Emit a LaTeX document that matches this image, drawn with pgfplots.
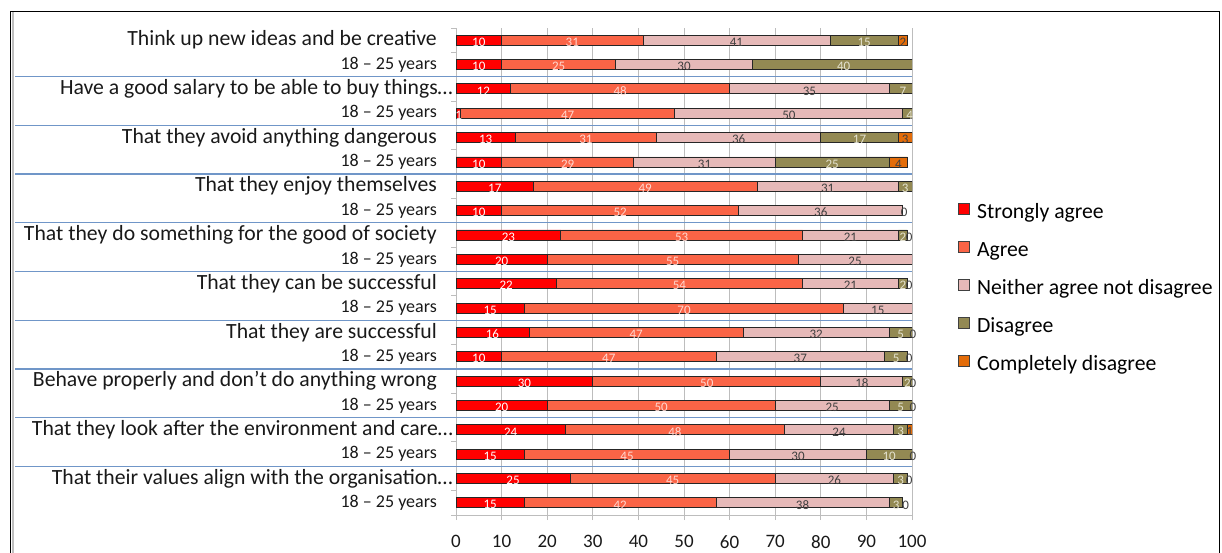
\documentclass[border=0pt]{standalone}
\usepackage{pgfplots}
\pgfplotsset{compat=1.18}
\usepackage{pgfplotstable}
\usepackage{fontspec}
\setmainfont{Carlito}
\definecolor{cSA}{HTML}{FF0000}
\definecolor{cA}{HTML}{FA6446}
\definecolor{cN}{HTML}{E6B9B8}
\definecolor{cD}{HTML}{938953}
\definecolor{cCD}{HTML}{E36C09}
\definecolor{sepblue}{HTML}{7096C8}
\definecolor{gridgrey}{HTML}{BDBDBD}
\definecolor{lblA}{HTML}{FFD8D0}
\definecolor{lblD}{HTML}{E4E2CF}
\definecolor{lbldark}{HTML}{404040}

\pgfplotstableread{
row SA A N D CD
1 10 31 41 15 2
2 10 25 30 40 0
3 12 48 35 7 0
4 1 47 50 4 0
5 13 31 36 17 3
6 10 29 31 25 4
7 17 49 31 3 0
8 10 52 36 0 0
9 23 53 21 2 0
10 20 55 25 0 0
11 22 54 21 2 0
12 15 70 15 0 0
13 16 47 32 5 0
14 10 47 37 5 0
15 30 50 18 2 0
16 20 50 25 5 0
17 24 48 24 3 1
18 15 45 30 10 0
19 25 45 26 3 0
20 15 42 38 3 0
}\datatable

\newcommand{\yrs}{{\fontsize{18}{20}\selectfont 18 – 25 years}}

\begin{document}
\begin{tikzpicture}[x=1pt,y=1pt]
\useasboundingbox (0,0) rectangle (1222,552);
\begin{axis}[
  at={(456pt,37pt)}, anchor=south west,
  scale only axis, width=456pt, height=487pt,
  xbar stacked, bar width=10pt,
  xmin=0, xmax=100, ymin=0.5, ymax=20.5, y dir=reverse,
  xtick={0,10,...,100},
  minor xtick={0,10,...,100},
  ytick={1,...,20},
  minor ytick={0.5,1.5,...,20.5},
  major tick length=0pt, minor tick length=5pt, tick align=outside,
  every tick/.style={gridgrey, line width=1pt},
  /pgf/number format/assume math mode=true,
  yticklabels={
    Think up new ideas and be creative, \yrs,
    Have a good salary to be able to buy things…\hspace*{-16pt}, \yrs,
    That they avoid anything dangerous, \yrs,
    That they enjoy themselves, \yrs,
    That they do something for the good of society, \yrs,
    That they can be successful, \yrs,
    That they are successful, \yrs,
    Behave properly and don't do anything wrong, \yrs,
    That they look after the environment and care…\hspace*{-16pt}, \yrs,
    That their values align with the organisation…\hspace*{-16pt}, \yrs},
  yticklabel style={font=\fontsize{21.7}{24}\selectfont, inner sep=0pt, xshift=-19pt, anchor=east, text=black!90},
  xticklabel style={font=\fontsize{19}{22}\selectfont, inner sep=0pt, yshift=-20pt, anchor=north, text=black!90},
  axis x line*=bottom, axis y line*=left,
  axis line style={gridgrey, line width=1pt},
  xmajorgrids, grid style={gridgrey, line width=1pt},
  every axis plot/.append style={draw=black!85, line width=0.8pt},
  legend style={at={(1.101,0.646)}, anchor=north west, draw=none, fill=none,
    font=\fontsize{21.7}{25}\selectfont, row sep=20.5pt, column sep=7pt, inner sep=0pt,
    nodes={inner sep=0pt, text depth=0pt}, cells={anchor=west}},
  legend image code/.code={\draw[#1, draw=black!75, line width=0.8pt] (0pt,-5pt) rectangle (11pt,6pt);},
]
\addplot[fill=cSA] table[x=SA, y=row] {\datatable};
\addlegendentry{\strut Strongly agree}
\addplot[fill=cA] table[x=A, y=row] {\datatable};
\addlegendentry{\strut Agree}
\addplot[fill=cN] table[x=N, y=row] {\datatable};
\addlegendentry{\strut Neither agree not disagree}
\addplot[fill=cD] table[x=D, y=row] {\datatable};
\addlegendentry{\strut Disagree}
\addplot[fill=cCD] table[x=CD, y=row] {\datatable};
\addlegendentry{\strut Completely disagree}
\end{axis}

\begin{axis}[
  at={(456pt,37pt)}, anchor=south west,
  scale only axis, width=456pt, height=487pt,
  xmin=0, xmax=100, ymin=0.5, ymax=20.5, y dir=reverse,
  hide axis, clip=false,
  nodes near coords, point meta=explicit symbolic,
  every node near coord/.append style={anchor=center, font=\fontsize{13}{14}\selectfont, inner sep=0pt, yshift=-2pt},
]
\foreach \yy in {2.5,4.5,...,18.5} {
  \edef\tmp{\noexpand\draw[sepblue, line width=1.3pt] (axis cs:-96.7,\yy) -- (axis cs:100,\yy);}
  \tmp
}
% Strongly agree labels
\addplot[draw=none, mark=none, every node near coord/.append style={text=white}] coordinates {
(5,1)[10] (5,2)[10] (6,3)[12] (0.6,4)[1] (6.5,5)[13] (5,6)[10] (8.5,7)[17] (5,8)[10]
(11.5,9)[23] (10,10)[20] (11,11)[22] (7.5,12)[15] (8,13)[16] (5,14)[10] (15,15)[30]
(10,16)[20] (12,17)[24] (7.5,18)[15] (12.5,19)[25] (7.5,20)[15]};
% Agree labels
\addplot[draw=none, mark=none, every node near coord/.append style={text=lblA}] coordinates {
(25.5,1)[31] (22.5,2)[25] (36,3)[48] (24.5,4)[47] (28.5,5)[31] (24.5,6)[29] (41.5,7)[49] (36,8)[52]
(49.5,9)[53] (47.5,10)[55] (49,11)[54] (50,12)[70] (39.5,13)[47] (33.5,14)[47] (55,15)[50]
(45,16)[50] (48,17)[48] (37.5,18)[45] (47.5,19)[45] (36,20)[42]};
% Neither labels
\addplot[draw=none, mark=none, every node near coord/.append style={text=lbldark}] coordinates {
(61.5,1)[41] (50,2)[30] (77.5,3)[35] (73,4)[50] (62,5)[36] (54.5,6)[31] (81.5,7)[31] (80,8)[36]
(86.5,9)[21] (87.5,10)[25] (86.5,11)[21] (92.5,12)[15] (79,13)[32] (75.5,14)[37] (89,15)[18]
(82.5,16)[25] (84,17)[24] (75,18)[30] (83,19)[26] (76,20)[38]};
% Disagree labels
\addplot[draw=none, mark=none, every node near coord/.append style={text=lblD}] coordinates {
(89.5,1)[15] (85,2)[40] (98,3)[7] (99.5,4)[4] (88.5,5)[17] (82.5,6)[25] (98.5,7)[3]
(98,9)[2] (98,11)[2] (97.5,13)[5] (96.5,14)[5] (99,15)[2]
(97.5,16)[5] (97.5,17)[3] (95,18)[10] (97.5,19)[3] (96.5,20)[3]};
% Completely disagree labels
\addplot[draw=none, mark=none, every node near coord/.append style={text=lbldark}] coordinates {
(98,1)[2] (98.5,5)[3] (97,6)[4] (98.3,8)[0] (99.4,9)[0] (99.4,11)[0] (100.2,13)[0] (99.4,14)[0]
(100.2,15)[0] (100.2,16)[0] (99.5,17)[1] (100.2,18)[0] (99.4,19)[0] (98.6,20)[0]};
\end{axis}
% outer frame
\draw[black, line width=1.6pt] (10.5,-10) -- (10.5,540.5) -- (1219.5,540.5) -- (1219.5,-10);
\draw[black!25, line width=1.5pt] (13,-10) -- (13,539.5);
\end{tikzpicture}
\end{document}
